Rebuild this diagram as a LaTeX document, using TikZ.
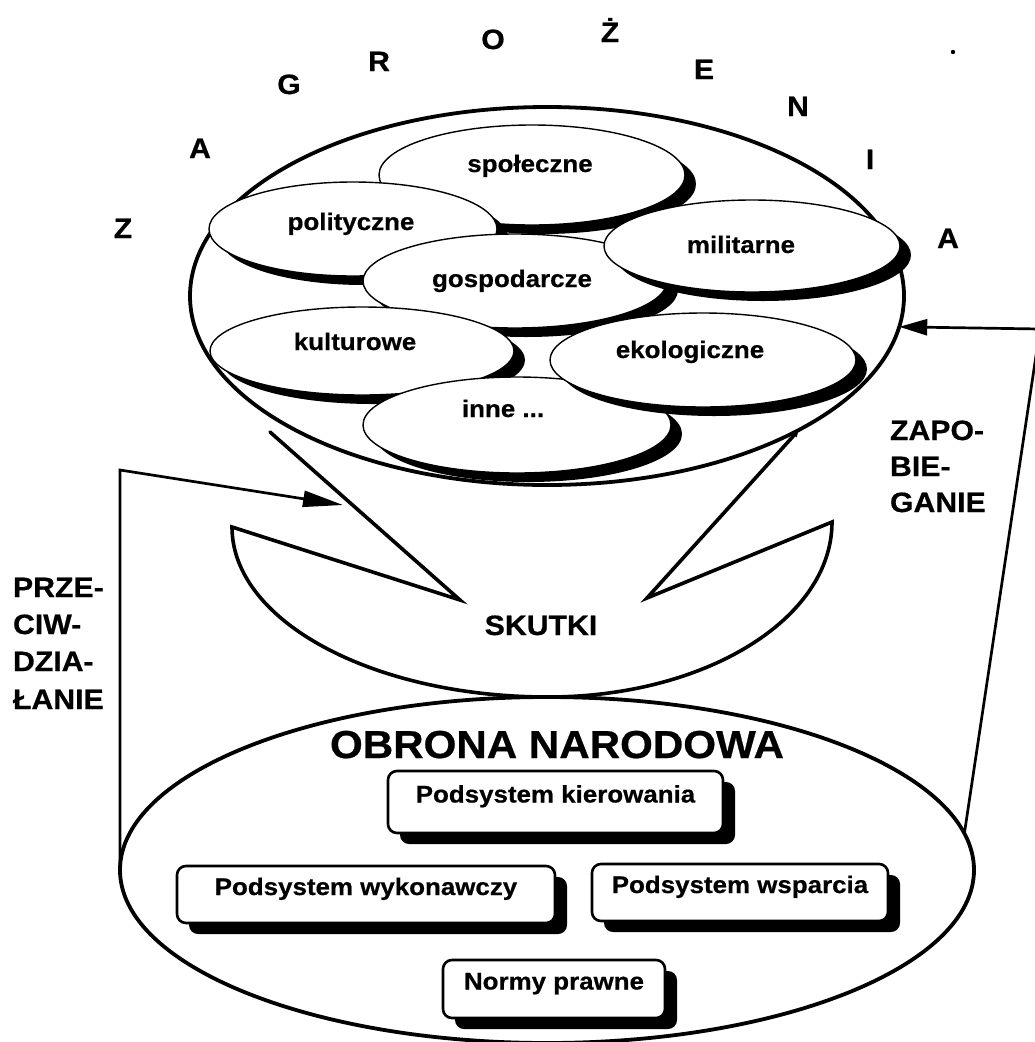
\documentclass[tikz,border=0pt]{standalone}
\usepackage{fontspec}
\setmainfont{Liberation Sans}[FakeStretch=1.08, FakeBold=0.6]
\usetikzlibrary{shapes.geometric,arrows.meta}

% one threat ellipse with its solid drop shadow: name, x, y, x radius, y radius
\newcommand\threatcloud[5]{%
  \fill[black] (#2+11,#3+9) ellipse [x radius=#4, y radius=#5];
  \node[inell, minimum width=2*#4pt, minimum height=2*#5pt] (#1) at (#2,#3) {};
}
% one subsystem box with its solid shadow: name, left, top, right, bottom, text
\newcommand\subsystembox[6]{%
  \fill[black, rounded corners=9pt] (#2+12,#3+11) rectangle (#4+12,#5+11);
  \node[subbox, minimum width=#4pt-#2pt, minimum height=#5pt-#3pt]
       (#1) at ({(#2+#4)/2},{(#3+#5)/2}) {#6};
}

\begin{document}
\begin{tikzpicture}[x=1pt, y=-1pt,
  every node/.style={inner sep=0pt, outer sep=0pt},
  inell/.style={draw, ellipse, fill=white, line width=1.4pt},
  bigell/.style={draw, ellipse, line width=3.8pt},
  lab/.style={font=\fontsize{24}{28}\selectfont\bfseries},
  letter/.style={font=\fontsize{28}{32}\selectfont\bfseries, anchor=base},
  side/.style={font=\fontsize{28}{32}\selectfont\bfseries, anchor=base west},
  subbox/.style={draw, fill=white, rounded corners=9pt, line width=2.6pt,
    font=\fontsize{24}{28}\selectfont\bfseries, text height=17pt, text depth=16pt},
  conn/.style={line width=2.7pt, line join=miter},
  funnel/.style={line width=3.6pt, line join=miter, line cap=round}]

\useasboundingbox (0,0) rectangle (1035,1042);
\fill[white] (0,0) rectangle (1035,1042);
\clip (0,0) rectangle (1035,1042);

% threats: the large ellipse and the kinds of threats inside it
\node[bigell, fill=white, minimum width=714pt, minimum height=378pt] (zag) at (547,296) {};
\threatcloud{spol}{532}{175}{153}{50}
\threatcloud{pol}{353}{229}{144}{47}
\threatcloud{gosp}{515}{281}{152}{47}
\threatcloud{mil}{752}{246}{148}{46}
\threatcloud{kult}{362}{351}{152}{44}
\threatcloud{inne}{517}{425}{154}{48}
\threatcloud{eko}{703}{360}{153}{47}

\node[lab, anchor=base] (tspol) at (530,172) {społeczne};
\node[lab, anchor=base] (tpol) at (351,230) {polityczne};
\node[lab, anchor=base] (tgosp) at (512,287) {gospodarcze};
\node[lab, anchor=base] (tmil) at (741,253) {militarne};
\node[lab, anchor=base] (tkult) at (355,350) {kulturowe};
\node[lab, anchor=base] (teko) at (690,358) {ekologiczne};
\node[lab, anchor=base] (tinne) at (503,417) {inne ...};

% the word written round the threats
\node[letter] (l1) at (123,238) {Z};
\node[letter] (l2) at (200,158) {A};
\node[letter] (l3) at (289,94) {G};
\node[letter] (l4) at (379,71) {R};
\node[letter] (l5) at (493,49) {O};
\node[letter] (l6) at (610,42) {Ż};
\node[letter] (l7) at (704,79) {E};
\node[letter] (l8) at (798,116) {N};
\node[letter] (l9) at (870,169) {I};
\node[letter] (l10) at (948,248) {A};
\fill (953,52) circle (2.2pt);

% consequences funnel
\coordinate (fl1) at (270,432);
\coordinate (fl2) at (460,600);
\coordinate (fl3) at (232,527);
\coordinate (fb)  at (548,697);
\coordinate (fr3) at (832,522);
\coordinate (fr2) at (647,598);
\draw[funnel, -{Triangle[length=7pt,width=6pt]}]
  (fl1) -- (fl2) -- (fl3)
  .. controls (232,621) and (373,697) .. (fb)
  .. controls (705,697) and (832,619) .. (fr3)
  -- (fr2) -- (zag.-28.6);
\node[font=\fontsize{28}{32}\selectfont\bfseries, anchor=base] (skutki) at (541,635) {SKUTKI};

% national defence and its subsystems
\node[bigell, minimum width=854pt, minimum height=346pt] (obrona) at (547,870) {};
\node[font=\fontsize{39}{44}\selectfont\bfseries, anchor=base] (tobr) at (557,758) {OBRONA NARODOWA};
\subsystembox{kier}{388}{771}{723}{833}{Podsystem kierowania}
\subsystembox{wyk}{177}{866}{555}{923}{Podsystem wykonawczy}
\subsystembox{wsp}{592}{864}{888}{921}{Podsystem wsparcia}
\subsystembox{norm}{443}{960}{665}{1018}{Normy prawne}

% counteraction: from defence to the consequences
\coordinate (pcorner) at (0,470);
\coordinate (ptip) at (343,505);
\draw[conn, -{Triangle[length=40pt,width=16pt]}]
  (obrona.west) -- (obrona.west |- pcorner) -- (ptip);
\node[side] (przec1) at (13,597) {PRZE-};
\node[side] (przec2) at (13,634) {CIW-};
\node[side] (przec3) at (13,671) {DZIA-};
\node[side] (przec4) at (13,709) {ŁANIE};

% prevention: from defence to the threats
\coordinate (zcorner) at (1040,329);
\draw[conn, -{Triangle[length=28pt,width=16pt]}]
  (obrona.5) -- (zcorner) -- (zag.-5.4);
\node[side] (zap1) at (890,440) {ZAPO-};
\node[side] (zap2) at (890,476) {BIE-};
\node[side] (zap3) at (890,512) {GANIE};

\end{tikzpicture}
\end{document}
